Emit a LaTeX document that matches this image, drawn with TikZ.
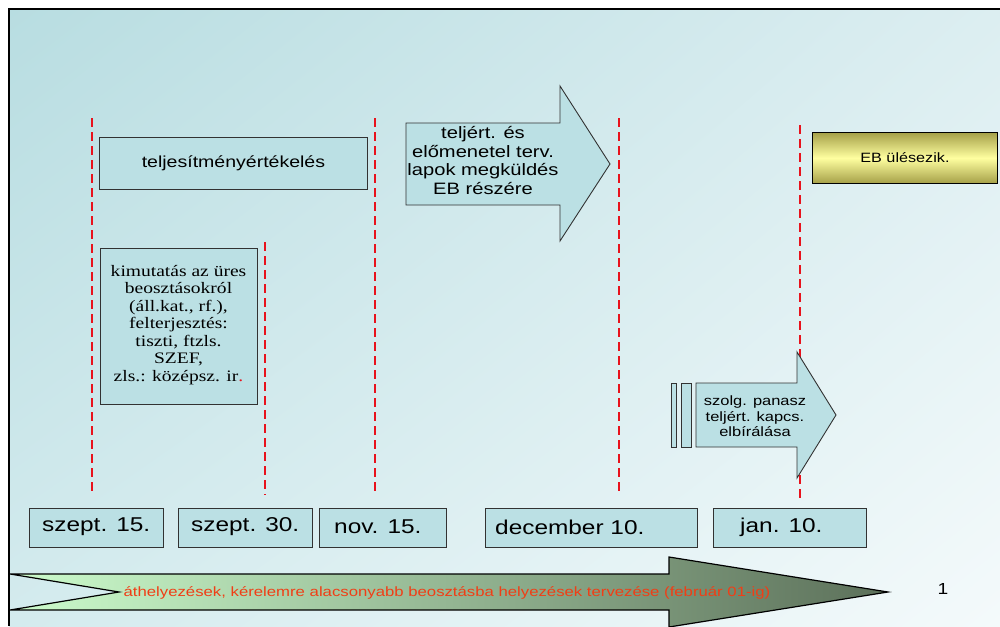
\documentclass[tikz,border=0pt]{standalone}
\usepackage{fontspec}
\usepackage{graphicx}
\usetikzlibrary{shadings}
\setmainfont{Liberation Sans}
\newfontfamily\seriffam{Liberation Serif}
\newcommand\hstretch[2][1.22]{\scalebox{#1}[1]{#2}}
\definecolor{bgUL}{RGB}{184,221,225}
\definecolor{bgUR}{RGB}{220,238,241}
\definecolor{bgLL}{RGB}{212,235,238}
\definecolor{bgLR}{RGB}{244,250,251}
\definecolor{boxfill}{RGB}{187,224,228}
\definecolor{boxline}{RGB}{50,50,50}
\definecolor{mark}{RGB}{232,18,28}
\definecolor{olive}{RGB}{165,160,72}
\definecolor{paleyellow}{RGB}{255,255,160}
\definecolor{greenA}{RGB}{204,252,204}
\definecolor{greenB}{RGB}{170,212,166}
\definecolor{greenC}{RGB}{92,112,90}
\definecolor{orangered}{RGB}{240,62,22}
\tikzset{
  datebox/.style={draw=boxline, line width=0.9pt, fill=boxfill, inner sep=0pt, anchor=north west},
  plainbox/.style={draw=boxline, line width=0.9pt, fill=boxfill, inner sep=0pt, anchor=north west},
  arrowshape/.style={draw=boxline, line width=0.9pt, fill=boxfill, line join=miter},
  deadline/.style={draw=mark, line width=2pt, dash pattern=on 9pt off 5pt},
  datelbl/.style={inner sep=0pt, anchor=west, font=\fontsize{20}{23}\selectfont},
  midlbl/.style={inner sep=0pt, font=\fontsize{16}{18.2}\selectfont},
  smalllbl/.style={inner sep=0pt, font=\fontsize{13.5}{15.5}\selectfont},
}
\begin{document}
\begin{tikzpicture}[x=1pt, y=-1pt]
\useasboundingbox (0,0) rectangle (1000,626);
% page and slide background
\fill[white] (0,0) rectangle (1000,626);
\shade[upper left=bgUL, upper right=bgUR, lower left=bgLL, lower right=bgLR] (9,9) rectangle (1000,626);
\draw[black, line width=2.5pt] (9,626) -- (9,9) -- (1000,9);

% deadline markers
\draw[deadline] (92,118) -- (92,492);
\draw[deadline] (265,242) -- (265,495);
\draw[deadline] (375,118) -- (375,492);
\draw[deadline] (619,118) -- (619,492);
\draw[deadline] (800,125) -- (800,500);

% activity boxes
\node[plainbox, minimum width=268pt, minimum height=52pt] (telj) at (99,137) {};
\node[midlbl] (teljt) at (telj.center) {\hstretch{teljesítményértékelés}};

\node[plainbox, minimum width=157pt, minimum height=156pt] (kim) at (100,248) {};
\node[inner sep=0pt, font=\seriffam\fontsize{16}{17.5}\selectfont] (kimt) at (178.5,325) {\hstretch{\begin{tabular}{@{}c@{}}kimutatás az üres\\beosztásokról\\(áll.kat., rf.),\\felterjesztés:\\tiszti, ftzls.\\SZEF,\\zls.: középsz. ir\textcolor{mark}{.}\end{tabular}}};

% arrow: sending the forms
\draw[arrowshape] (406,123) -- (560,123) -- (560,86) -- (610,164) -- (560,241) -- (560,205) -- (406,205) -- cycle;
\node[inner sep=0pt, font=\fontsize{16.5}{18.5}\selectfont] (sendt) at (483,163) {\hstretch[1.22]{\begin{tabular}{@{}c@{}}teljért. és\\előmenetel terv.\\lapok megküldés\\EB részére\end{tabular}}};

% board meeting
\node[draw=black, line width=0.9pt, inner sep=0pt, anchor=north west, minimum width=185pt, minimum height=51pt,
      top color=olive, bottom color=olive, middle color=paleyellow] (eb) at (812,132) {};
\node[smalllbl] (ebt) at (eb.center) {\hstretch[1.2]{EB ülésezik.}};

% arrow: complaints
\node[plainbox, minimum width=5pt, minimum height=64pt] (bar1) at (671,383) {};
\node[plainbox, minimum width=10pt, minimum height=64pt] (bar2) at (681,383) {};
\draw[arrowshape] (696,383) -- (797,383) -- (797,352) -- (836,415) -- (797,478) -- (797,447) -- (696,447) -- cycle;
\node[smalllbl] (compt) at (755,418) {\hstretch{\begin{tabular}{@{}c@{}}szolg. panasz\\teljért. kapcs.\\elbírálása\end{tabular}}};

% dates
\node[datebox, minimum width=134pt, minimum height=39pt] (b1) at (29,508) {};
\node[datebox, minimum width=134pt, minimum height=39pt] (b2) at (178,508) {};
\node[datebox, minimum width=127pt, minimum height=39pt] (b3) at (319,508) {};
\node[datebox, minimum width=212pt, minimum height=39pt] (b4) at (485,508) {};
\node[datebox, minimum width=153pt, minimum height=39pt] (b5) at (713,508) {};
\node[datelbl] (d1) at (42,527) {\hstretch{szept. 15.}};
\node[datelbl] (d2) at (191,527) {\hstretch{szept. 30.}};
\node[datelbl] (d3) at (334,527) {\hstretch{nov. 15.}};
\node[datelbl] (d4) at (495,527) {\hstretch{december 10.}};
\node[datelbl] (d5) at (740,527) {\hstretch{jan. 10.}};

% long-running arrow
\shade[left color=greenA, middle color=greenB, right color=greenC]
  (10,574) -- (669,574) -- (669,557) -- (888,592) -- (669,627) -- (669,610) -- (10,610) -- (119,592) -- cycle;
\draw[black, line width=1.2pt, line join=miter]
  (10,574) -- (669,574) -- (669,557) -- (888,592) -- (669,627) -- (669,610) -- (10,610) -- (119,592) -- cycle;
\node[smalllbl, text=orangered] (movet) at (447,593) {\hstretch[1.24]{áthelyezések, kérelemre alacsonyabb beosztásba helyezések tervezése (február 01-ig)}};

% slide number
\node[inner sep=0pt, font=\fontsize{16}{18}\selectfont] (num) at (943,589) {\hstretch[1.2]{1}};
\end{tikzpicture}
\end{document}
